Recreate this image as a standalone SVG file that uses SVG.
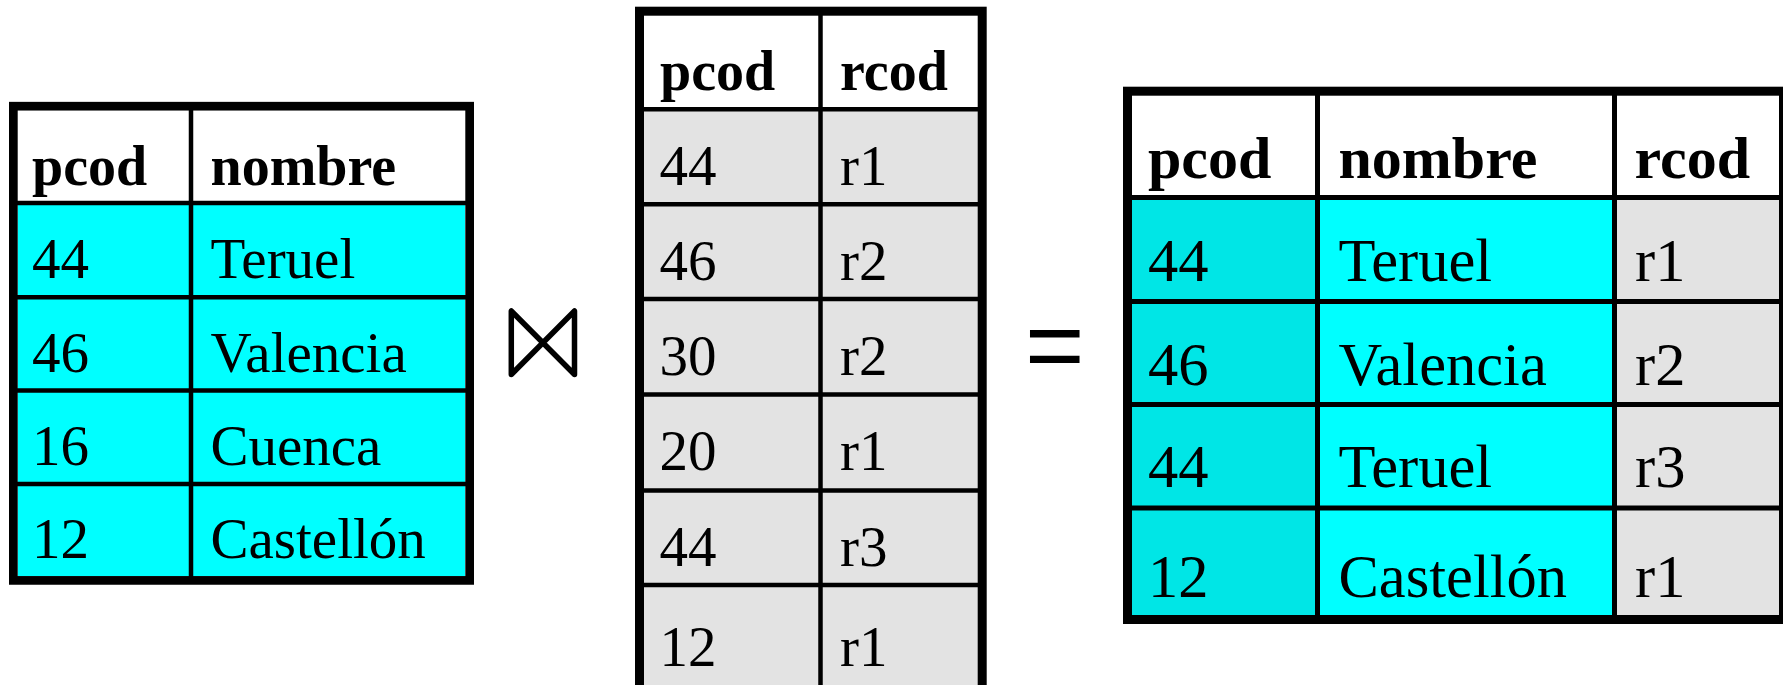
<svg xmlns="http://www.w3.org/2000/svg" width="1783" height="685" viewBox="0 0 1783 685">
<style>
.hdr{font-family:"Liberation Serif","Times New Roman",serif;font-weight:bold;font-size:56px;fill:#000}
.cell{font-family:"Liberation Serif","Times New Roman",serif;font-size:57px;fill:#000}
.r .hdr{font-size:60px}
.r .cell{font-size:60.5px}
.grid{stroke:#000;stroke-width:4.5}
.frame{fill:none;stroke:#000;stroke-width:9}
.bowtie{fill:none;stroke:#000;stroke-width:5.5;stroke-linejoin:round;stroke-linecap:round}
.eq{font-family:"Liberation Sans",Arial,sans-serif;fill:#000}
</style>
<rect width="1783" height="685" fill="#fff"/>
<g id="connectors"/>

<g id="table-provincias">
<rect x="17.7" y="110.7" width="447.3" height="92.3" fill="#fff"/>
<rect x="17.7" y="203" width="447.3" height="373" fill="#00ffff"/>
<line class="grid" x1="191" y1="110" x2="191" y2="577"/>
<line class="grid" x1="17" y1="203" x2="466" y2="203"/>
<line class="grid" x1="17" y1="297.3" x2="466" y2="297.3"/>
<line class="grid" x1="17" y1="390.5" x2="466" y2="390.5"/>
<line class="grid" x1="17" y1="484" x2="466" y2="484"/>
<rect class="frame" x="13.35" y="106.2" width="456.3" height="474.2" style="stroke-width:8.7"/>
<text class="hdr" x="32" y="185">pcod</text>
<text class="hdr" x="210.5" y="185">nombre</text>
<text class="cell" x="32" y="277.7">44</text>
<text class="cell" x="210.5" y="277.7">Teruel</text>
<text class="cell" x="32" y="371.7">46</text>
<text class="cell" x="210.5" y="371.7">Valencia</text>
<text class="cell" x="32" y="465">16</text>
<text class="cell" x="210.5" y="465">Cuenca</text>
<text class="cell" x="32" y="558.3">12</text>
<text class="cell" x="210.5" y="558.3">Castellón</text>
</g>

<g id="op-join">
<path class="bowtie" d="M511.3,311 V374.5 L574.5,311 V374.5 Z"/>
</g>

<g id="table-regiones">
<rect x="644" y="15.7" width="334" height="93.5" fill="#fff"/>
<rect x="644" y="109.2" width="334" height="576" fill="#e3e3e3"/>
<line class="grid" x1="820.5" y1="15" x2="820.5" y2="690"/>
<line class="grid" x1="643" y1="109.2" x2="979" y2="109.2"/>
<line class="grid" x1="643" y1="204.3" x2="979" y2="204.3"/>
<line class="grid" x1="643" y1="299" x2="979" y2="299"/>
<line class="grid" x1="643" y1="394.5" x2="979" y2="394.5"/>
<line class="grid" x1="643" y1="490.5" x2="979" y2="490.5"/>
<line class="grid" x1="643" y1="585" x2="979" y2="585"/>
<rect class="frame" x="639.5" y="11.2" width="342.7" height="680"/>
<text class="hdr" x="660" y="90">pcod</text>
<text class="hdr" x="840" y="90">rcod</text>
<text class="cell" x="659.5" y="185">44</text>
<text class="cell" x="840" y="185">r1</text>
<text class="cell" x="659.5" y="280">46</text>
<text class="cell" x="840" y="280">r2</text>
<text class="cell" x="659.5" y="375">30</text>
<text class="cell" x="840" y="375">r2</text>
<text class="cell" x="659.5" y="470">20</text>
<text class="cell" x="840" y="470">r1</text>
<text class="cell" x="659.5" y="566">44</text>
<text class="cell" x="840" y="566">r3</text>
<text class="cell" x="659.5" y="666">12</text>
<text class="cell" x="840" y="666">r1</text>
</g>

<g id="op-equals">
<text class="eq" x="1025" y="380" font-size="102">=</text>
</g>

<g id="table-resultado" class="r">
<rect x="1132" y="95.7" width="647" height="101.8" fill="#fff"/>
<rect x="1132" y="197.5" width="185.5" height="417.5" fill="#00e6e6"/>
<rect x="1317.5" y="197.5" width="297" height="417.5" fill="#00ffff"/>
<rect x="1614.5" y="197.5" width="164.5" height="417.5" fill="#e3e3e3"/>
<line class="grid" x1="1317.5" y1="95" x2="1317.5" y2="616" style="stroke-width:5"/>
<line class="grid" x1="1614.5" y1="95" x2="1614.5" y2="616" style="stroke-width:5"/>
<line class="grid" x1="1131" y1="197.5" x2="1780" y2="197.5" style="stroke-width:5"/>
<line class="grid" x1="1131" y1="301.5" x2="1780" y2="301.5" style="stroke-width:5"/>
<line class="grid" x1="1131" y1="404.5" x2="1780" y2="404.5" style="stroke-width:5"/>
<line class="grid" x1="1131" y1="508" x2="1780" y2="508" style="stroke-width:5"/>
<rect class="frame" x="1127.5" y="91.2" width="656" height="528.3"/>
<text class="hdr" x="1148" y="178.3">pcod</text>
<text class="hdr" x="1338.5" y="178.3">nombre</text>
<text class="hdr" x="1634.5" y="178.3">rcod</text>
<text class="cell" x="1148" y="281">44</text>
<text class="cell" x="1338.5" y="281">Teruel</text>
<text class="cell" x="1635" y="281">r1</text>
<text class="cell" x="1148" y="384.5">46</text>
<text class="cell" x="1338.5" y="384.5">Valencia</text>
<text class="cell" x="1635" y="384.5">r2</text>
<text class="cell" x="1148" y="487.3">44</text>
<text class="cell" x="1338.5" y="487.3">Teruel</text>
<text class="cell" x="1635" y="487.3">r3</text>
<text class="cell" x="1148" y="597">12</text>
<text class="cell" x="1338.5" y="597">Castellón</text>
<text class="cell" x="1635" y="597">r1</text>
</g>
</svg>
